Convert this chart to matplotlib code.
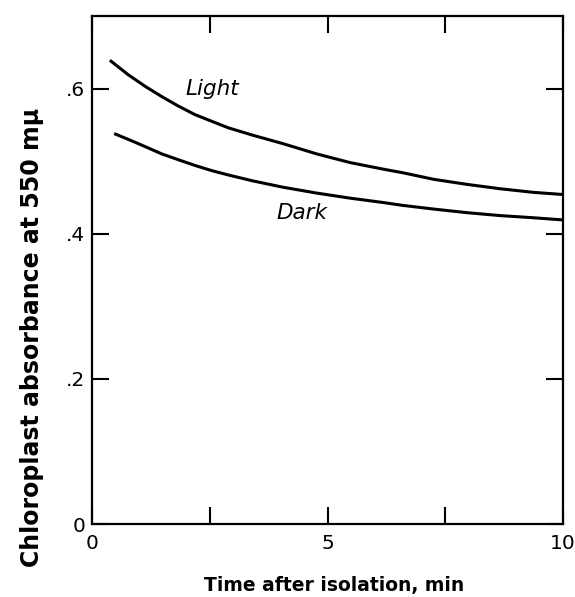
import matplotlib
matplotlib.use("Agg")
import matplotlib.pyplot as plt

light_t = [0.38, 0.77, 1.13, 1.48, 1.83, 2.19, 2.54, 2.89, 3.4, 4.06, 4.77, 5.48, 6.18, 6.6, 7.25, 7.96, 8.66, 9.37, 10.0]
light_v = [0.639, 0.619, 0.603, 0.589, 0.576, 0.564, 0.555, 0.546, 0.536, 0.524, 0.510, 0.498, 0.489, 0.484, 0.475, 0.468, 0.462, 0.457, 0.454]
dark_t = [0.47, 0.77, 1.13, 1.48, 1.83, 2.19, 2.54, 2.89, 3.4, 4.06, 4.77, 5.48, 6.18, 6.6, 7.25, 7.96, 8.66, 9.37, 10.0]
dark_v = [0.538, 0.530, 0.520, 0.510, 0.502, 0.494, 0.487, 0.481, 0.473, 0.464, 0.456, 0.449, 0.443, 0.439, 0.434, 0.429, 0.425, 0.422, 0.419]

x_ticks = [0, 2.5, 5, 7.5, 10]
x_labels = ["0", "", "5", "", "10"]
y_ticks = [0, 0.2, 0.4, 0.6]
y_labels = ["0", ".2", ".4", ".6"]

W, H = 575, 597
fig = plt.figure(figsize=(W/100, H/100), dpi=100)
ax = fig.add_axes([92/W, 1 - 524/H, (563-92)/W, (524-16)/H])

ax.plot(light_t, light_v, color="black", lw=2.2, solid_capstyle="butt", solid_joinstyle="round")
ax.plot(dark_t, dark_v, color="black", lw=2.2, solid_capstyle="butt", solid_joinstyle="round")

ax.set_xlim(0, 10)
ax.set_ylim(0, 0.7)
ax.set_xticks(x_ticks)
ax.set_xticklabels(x_labels)
ax.set_yticks(y_ticks)
ax.set_yticklabels(y_labels)
ax.tick_params(direction="in", length=12, width=1.5, top=True, right=True,
               labelsize=14.5)
ax.tick_params(axis="x", pad=7)
ax.tick_params(axis="y", pad=5)
for s in ax.spines.values():
    s.set_linewidth(1.6)

ax.text(2.55, 0.600, "Light", style="italic", fontsize=15.5, ha="center", va="center")
ax.text(4.46, 0.428, "Dark", style="italic", fontsize=15.5, ha="center", va="center")

fig.text(334/W, 1 - 586/H, "Time after isolation, min", fontsize=13.5,
         fontweight="bold", ha="center", va="center")
fig.text(32/W, 1 - 337/H, "Chloroplast absorbance at 550 m\u03bc", fontsize=17,
         fontweight="bold", rotation=90, ha="center", va="center")

fig.savefig("out.png", dpi=100)
